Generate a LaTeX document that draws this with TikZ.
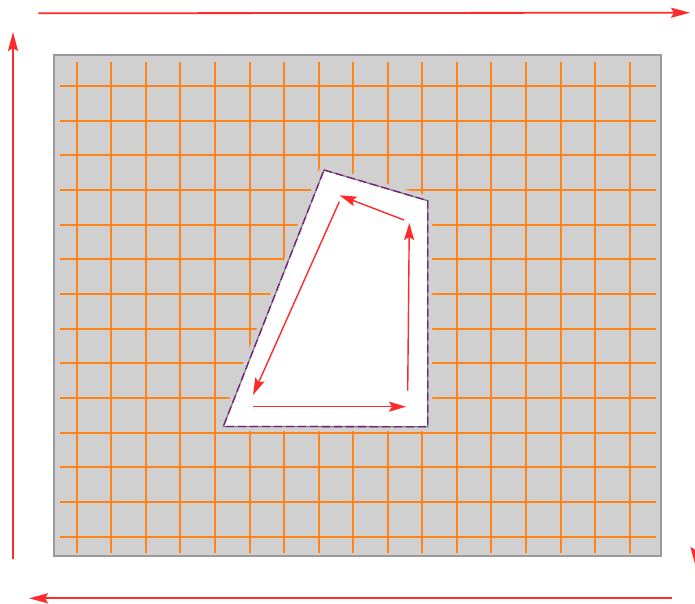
\documentclass[tikz,border=0pt]{standalone}
\usetikzlibrary{arrows.meta}
\definecolor{gridorange}{HTML}{FF8418}
\definecolor{panelgray}{HTML}{D0D0D0}
\definecolor{panelborder}{HTML}{9A9A9A}
\definecolor{arrowred}{HTML}{FF2A2A}
\definecolor{holepurple}{HTML}{7A1A80}
\tikzset{
  redarrow/.style={draw=arrowred, line width=1.8pt, -{Stealth[length=19pt, width=10pt, inset=3pt]}},
  innerarrow/.style={draw=arrowred, line width=1.4pt, -{Stealth[length=17pt, width=10pt, inset=3pt]}},
  gridline/.style={draw=gridorange, line width=2pt},
}
\begin{document}
\begin{tikzpicture}[x=1pt, y=-1pt]
\useasboundingbox (0,0) rectangle (695,604);
% panel
\fill[panelgray] (54,55) rectangle (661,556);
\foreach \i in {0,...,16} {
  \draw[gridline] ({76.7+34.56*\i},62) -- ({76.7+34.56*\i},553);
}
\foreach \j in {0,...,13} {
  \draw[gridline] (60,{86+34.67*\j}) -- (656,{86+34.67*\j});
}
\draw[panelborder, line width=2pt] (54,55) rectangle (661,556);
% hole
\coordinate (h1) at (324,170);
\coordinate (h2) at (427.7,200.7);
\coordinate (h3) at (427.7,426.7);
\coordinate (h4) at (223.3,426.5);
\draw[panelgray, line width=9pt, line join=round] (h1) -- (h2) -- (h3) -- (h4) -- cycle;
\fill[white] (h1) -- (h2) -- (h3) -- (h4) -- cycle;
\draw[gray, line width=1.3pt] (h1) -- (h2) -- (h3) -- (h4) -- cycle;
\draw[holepurple, line width=1.3pt, dash pattern=on 8pt off 4pt] (h1) -- (h2) -- (h3) -- (h4) -- cycle;
% inner arrows
\coordinate (b1) at (252.7,406.7); \coordinate (b2) at (406,406.7);
\coordinate (r1) at (407.7,390.7); \coordinate (r2) at (409.3,223);
\coordinate (t1) at (404,220);     \coordinate (t2) at (339.5,195.3);
\coordinate (l1) at (339.3,201.7); \coordinate (l2) at (253,395);
\draw[innerarrow] (b1) -- (b2);
\draw[innerarrow] (r1) -- (r2);
\draw[innerarrow] (t1) -- (t2);
\draw[innerarrow] (l1) -- (l2);
% outer arrows
\coordinate (ot1) at (38.3,13.3); \coordinate (ot2) at (690,12.7);
\coordinate (or1) at (695.5,47);  \coordinate (or2) at (695.5,566);
\coordinate (ob1) at (672,598.3); \coordinate (ob2) at (29,598.3);
\coordinate (ol1) at (13,559);    \coordinate (ol2) at (13,32);
\draw[redarrow] (ot1) -- (ot2);
\draw[redarrow] (or1) -- (or2);
\draw[redarrow] (ob1) -- (ob2);
\draw[redarrow] (ol1) -- (ol2);
\end{tikzpicture}
\end{document}
